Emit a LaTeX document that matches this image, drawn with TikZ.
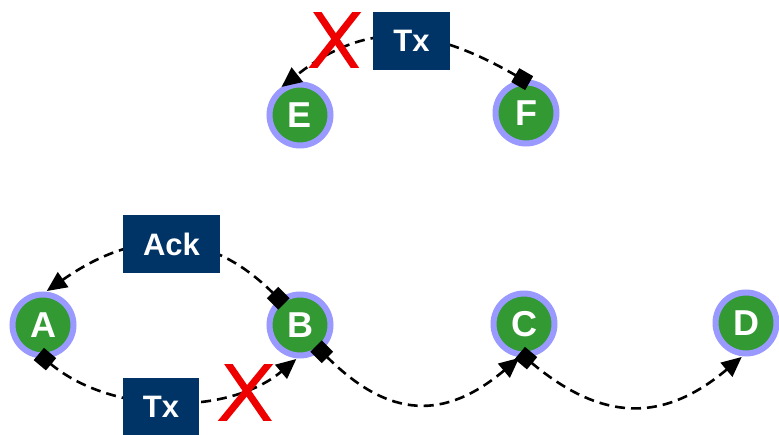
\documentclass[tikz,border=0pt]{standalone}
\usepackage{fontspec}
\setmainfont{Liberation Sans}
\usetikzlibrary{arrows.meta}
\definecolor{nodegreen}{HTML}{339933}
\definecolor{ringblue}{HTML}{9999FF}
\definecolor{msgnavy}{HTML}{003366}
\definecolor{failred}{HTML}{EE0000}
\begin{document}
\begin{tikzpicture}[x=1pt,y=1pt,
  station/.style={circle, fill=nodegreen, draw=ringblue, line width=6pt,
    minimum size=61pt, inner sep=0pt, outer sep=3pt, text=white,
    font=\fontsize{36}{36}\selectfont\bfseries},
  msg/.style={fill=msgnavy, text=white, minimum height=58pt, inner sep=0pt,
    font=\fontsize{31}{31}\selectfont\bfseries},
  link/.style={line width=2.6pt, dash pattern=on 10pt off 6pt,
    {Square[length=16pt,width=16pt]}-{Triangle[length=20pt,width=18pt]},
    shorten <=-7pt, shorten >=1pt},
  cross/.style={failred, line width=7pt}]
\useasboundingbox (0,-435) rectangle (779,0);

% stations
\node[station] (E) at (300,-115) {E};
\node[station] (F) at (526,-113) {F};
\node[station] (A) at (43,-325) {A};
\node[station] (B) at (300,-325) {B};
\node[station] (C) at (524,-324) {C};
\node[station] (D) at (746,-323) {D};

% links
\draw[link] (F.95) to[out=150,in=38,looseness=1.15] (E.125);
\draw[link] (B.129) to[out=135,in=35,looseness=1.15] (A.85);
\draw[link] (A.-88) to[out=-40,in=220,looseness=0.9] (B.-95);
\draw[link] (B.-51) to[out=-45,in=220,looseness=1.25] (C.-97);
\draw[link] (C.-88) to[out=-40,in=220,looseness=1.2] (D.-96);

% message labels
\node[msg, minimum width=77pt] (tx1) at (411.5,-41) {Tx};
\node[msg, minimum width=97pt] (ack) at (171.5,-244) {Ack};
\node[msg, minimum width=76pt] (tx2) at (161,-407) {Tx};

% lost transmissions
\begin{scope}
  \clip (290,-13) rectangle (380,-68);
  \draw[cross] (312.6,-5) -- (360.4,-76);
  \draw[cross] (362.3,-5) -- (306.7,-76);
\end{scope}
\begin{scope}
  \clip (200,-365) rectangle (290,-420);
  \draw[cross] (223.5,-357) -- (272.5,-428);
  \draw[cross] (274.5,-357) -- (216.5,-428);
\end{scope}
\end{tikzpicture}
\end{document}
